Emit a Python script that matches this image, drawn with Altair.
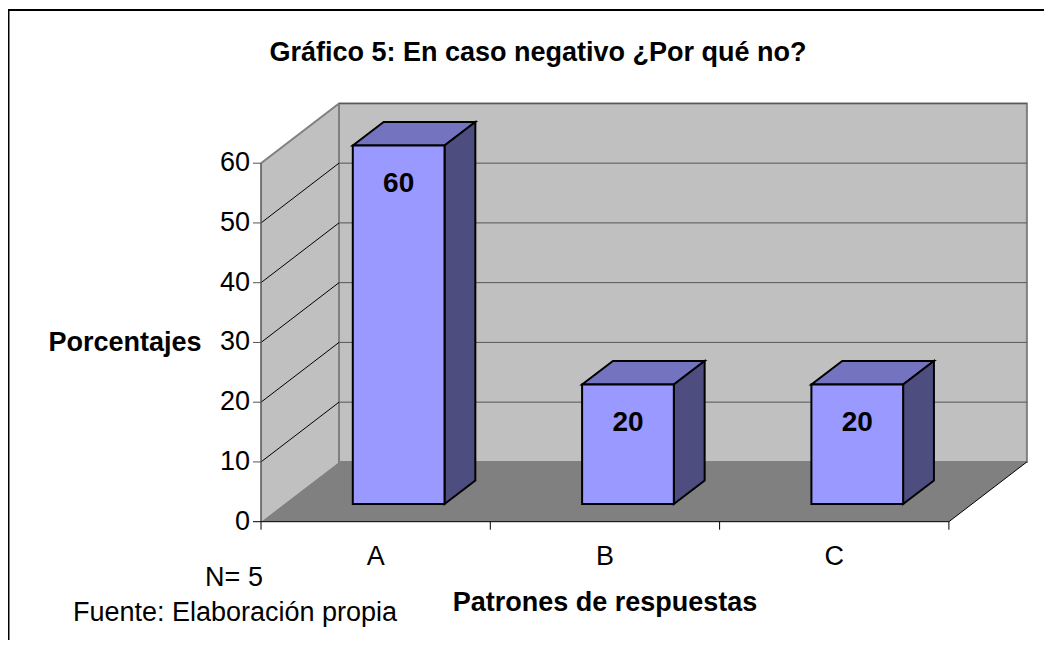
import altair as alt
import pandas as pd

# ---- chart values ----
categories = ["A", "B", "C"]
values = [60, 20, 20]
y_ticks = [0, 10, 20, 30, 40, 50, 60]
title_text = "Gráfico 5: En caso negativo ¿Por qué no?"
y_title = "Porcentajes"
x_title = "Patrones de respuestas"
note_lines = ["N= 5", "Fuente: Elaboración propia"]

# ---- projection of (category position, value, depth) to page pixels ----
X0, Y0 = 261.0, 521.7
CAT_W = 229.3
UNIT = 5.975
DX, DY = 78.0, 59.8
BAR_HALF = 0.2
D_FRONT, D_BACK = 0.295, 0.69
VMAX = 60
W, H = 1036, 632


def px(cat, depth):
    return X0 + cat * CAT_W + depth * DX


def py(v, depth):
    return Y0 - v * UNIT - depth * DY


WALL = "#C0C0C0"
EDGE = "#808080"
FLOOR = "#808080"
FRONT = "#9999FF"
TOP = "#7373BF"
SIDE = "#4D4D80"
FONT = "Liberation Sans"
N = len(categories)

xs = alt.Scale(domain=[8, 8 + W], range=[0, W], nice=False, zero=False)
ys = alt.Scale(domain=[8, 8 + H], range=[0, H], nice=False, zero=False)
X = alt.X("x:Q", scale=xs, axis=None)
Y = alt.Y("y:Q", scale=ys, axis=None)
layers = []


def vquad(x1, x2, ya1, yb1, ya2, yb2, fill, **kw):
    df = pd.DataFrame([dict(x=x1, y=ya1, y2=yb1), dict(x=x2, y=ya2, y2=yb2)])
    layers.append(alt.Chart(df).mark_area(fill=fill, interpolate="linear", **kw).encode(x=X, y=Y, y2="y2:Q"))


def hquad(y1, y2, xa1, xb1, xa2, xb2, fill, **kw):
    df = pd.DataFrame([dict(y=y2, x=xa2, x2=xb2), dict(y=y1, x=xa1, x2=xb1)])
    layers.append(alt.Chart(df).mark_area(fill=fill, orient="horizontal", interpolate="linear", **kw).encode(y=Y, x=X, x2="x2:Q"))


def line(pts, color, width):
    df = pd.DataFrame([dict(x=x, y=y, o=i) for i, (x, y) in enumerate(pts)])
    layers.append(alt.Chart(df).mark_line(color=color, strokeWidth=width, strokeCap="butt", strokeJoin="miter").encode(x=X, y=Y, order="o:Q"))


def text(rows, **kw):
    layers.append(alt.Chart(pd.DataFrame(rows)).mark_text(font=FONT, baseline="middle", **kw).encode(x=X, y=Y, text="t:N"))


# walls and floor
vquad(px(0, 0), px(0, 1), py(VMAX, 0), py(0, 0), py(VMAX, 1), py(0, 1), WALL)
vquad(px(0, 1), px(N, 1), py(VMAX, 1), py(0, 1), py(VMAX, 1), py(0, 1), WALL)
hquad(py(0, 0), py(0, 1), px(0, 0), px(N, 0), px(0, 1), px(N, 1), FLOOR)

# wall edges
line([(px(0, 0), py(VMAX, 0)), (px(0, 1), py(VMAX, 1)), (px(N, 1), py(VMAX, 1)), (px(N, 1), py(0, 1)), (px(0, 1), py(0, 1)), (px(0, 1), py(VMAX, 1))], EDGE, 2)
# grid lines
for t in y_ticks[1:-1]:
    line([(px(0, 0), py(t, 0)), (px(0, 1), py(t, 1))], "#000000", 1)
for t in y_ticks[1:]:
    line([(px(0, 1), py(t, 1)), (px(N, 1), py(t, 1))], "#555555", 1)
# axes
line([(px(0, 0), py(VMAX, 0)), (px(0, 0), py(0, 0))], "#555555", 1.5)
line([(px(0, 0), py(0, 0)), (px(N, 0), py(0, 0)), (px(N, 1), py(0, 1))], "#000000", 1)
for t in y_ticks:
    line([(px(0, 0) - 8, py(t, 0)), (px(0, 0), py(t, 0))], "#555555" if t else "#000000", 1)
for c in range(N + 1):
    line([(px(c, 0), py(0, 0)), (px(c, 0), py(0, 0) + 8)], "#000000", 1)

# bars
bar_stroke = dict(stroke="#000000", strokeWidth=2, strokeJoin="miter")
for i, (c, v) in enumerate(zip(categories, values)):
    l, r = i + 0.5 - BAR_HALF, i + 0.5 + BAR_HALF
    hquad(py(v, D_FRONT), py(v, D_BACK), px(l, D_FRONT), px(r, D_FRONT), px(l, D_BACK), px(r, D_BACK), TOP, **bar_stroke)
    vquad(px(r, D_FRONT), px(r, D_BACK), py(v, D_FRONT), py(0, D_FRONT), py(v, D_BACK), py(0, D_BACK), SIDE, **bar_stroke)
    vquad(px(l, D_FRONT), px(r, D_FRONT), py(v, D_FRONT), py(0, D_FRONT), py(v, D_FRONT), py(0, D_FRONT), FRONT, **bar_stroke)

# text
text([dict(t=str(t), x=px(0, 0) - 11, y=py(t, 0)) for t in y_ticks], fontSize=27, align="right")
text([dict(t=c, x=px(i + 0.5, 0), y=557) for i, c in enumerate(categories)], fontSize=27, align="center")
text([dict(t=str(v), x=px(i + 0.5, D_FRONT), y=py(v, D_FRONT) + 38) for i, v in enumerate(values)], fontSize=28, fontWeight="bold", align="center")
text([dict(t=title_text, x=538, y=53)], fontSize=27, fontWeight="bold", align="center")
text([dict(t=y_title, x=125, y=343)], fontSize=27, fontWeight="bold", align="center")
text([dict(t=x_title, x=605, y=603)], fontSize=27, fontWeight="bold", align="center")
text([dict(t=note_lines[0], x=234, y=578)], fontSize=27, align="center")
text([dict(t=note_lines[1], x=235, y=613)], fontSize=27, align="center")

# frame
line([(8.5, 8 + H), (8.5, 10), (8 + W, 10)], "#000000", 2)

chart = alt.layer(*layers).properties(
    width=W, height=H, padding=0,
    autosize=alt.AutoSizeParams(type="none"),
    background="#FFFFFF",
).configure_view(stroke=None)

chart.save("out.html", embed_options={"renderer": "svg", "actions": False})
